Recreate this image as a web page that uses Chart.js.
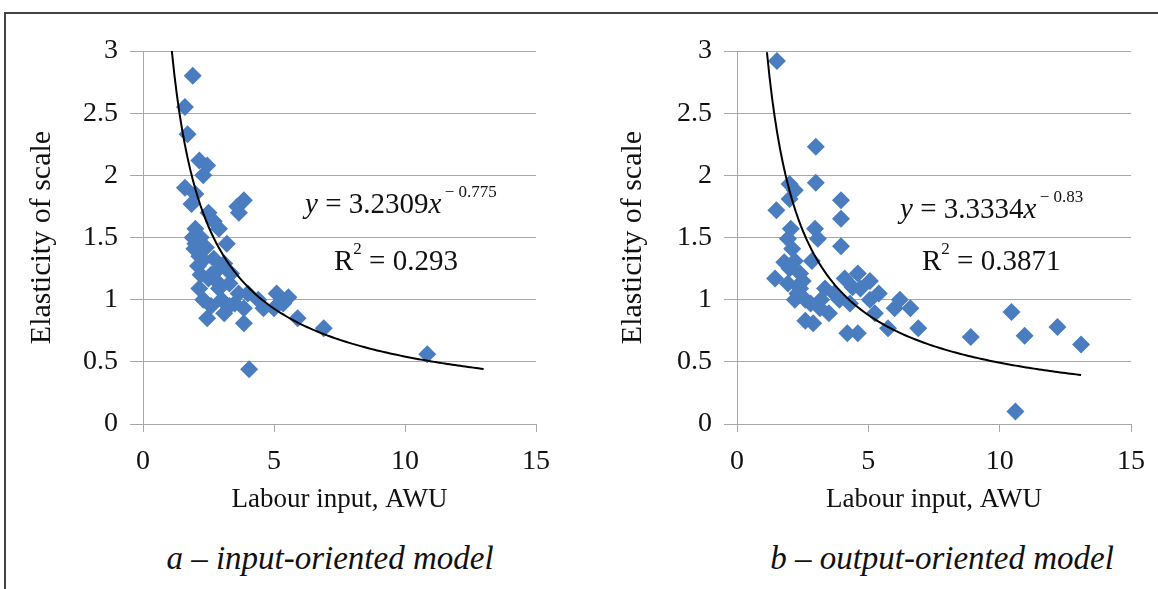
<!DOCTYPE html>
<html>
<head>
<meta charset="utf-8">
<script src="https://cdn.jsdelivr.net/npm/chart.js@4/dist/chart.umd.min.js"></script>
<style>
    body { margin: 0; background: #fff; width: 1158px; height: 589px; position: relative; overflow: hidden; font-family: "Liberation Serif", "Times New Roman", serif; }
    .frame { position: absolute; left: 4px; top: 12px; width: 1170px; height: 600px; border-left: 2px solid #444; border-top: 2px solid #444; }
    .box { position: absolute; top: 0; width: 579px; height: 520px; }
    .note { position: absolute; font-size: 29px; color: #111; white-space: nowrap; }
    .note sup { font-size: 17px; position: relative; top: -5px; }
    .caption { position: absolute; top: 540px; width: 520px; text-align: center; font-size: 33px; font-style: italic; color: #111; white-space: nowrap; }
</style>
</head>
<body>
<div class="frame"></div>
<div class="box" style="left:0px"><canvas id="chartA"></canvas></div>
<div class="box" style="left:579px"><canvas id="chartB"></canvas></div>

<div class="note" style="left:305px; top:187px"><i>y</i> = 3.2309<i>x</i><sup>&thinsp;&minus; 0.775</sup></div>
<div class="note" style="left:334px; top:244px">R<sup>2</sup> = 0.293</div>
<div class="note" style="left:900px; top:192px"><i>y</i> = 3.3334<i>x</i><sup>&thinsp;&minus; 0.83</sup></div>
<div class="note" style="left:922px; top:244px">R<sup>2</sup> = 0.3871</div>

<div class="caption" style="left:70px">a &ndash; input-oriented model</div>
<div class="caption" style="left:682px">b &ndash; output-oriented model</div>

<script>
// Data

// a - input-oriented model
const inputX = [1.9, 1.6, 1.7, 2.15, 2.45, 2.3, 1.6, 2.0, 1.85, 2.5, 3.6, 3.85, 3.66, 2.7, 2.9, 2.0, 1.9, 1.96, 2.15, 2.3,
    3.2, 2.1, 2.7, 3.1, 2.5, 2.15, 2.9, 3.3, 3.65, 4.0, 3.5, 3.85, 2.45, 3.1, 3.85, 4.4, 5.1, 5.55, 5.0, 5.9,
    6.9, 4.05, 10.85, 4.6, 5.35, 2.9, 3.36, 2.3, 2.0, 2.2, 2.4, 2.6, 2.8, 3.0, 2.2, 2.6, 3.3];
const inputY = [2.8, 2.55, 2.33, 2.12, 2.08, 2.0, 1.9, 1.85, 1.77, 1.7, 1.75, 1.8, 1.7, 1.63, 1.57, 1.57, 1.5, 1.41, 1.35, 1.32,
    1.45, 1.27, 1.33, 1.29, 1.17, 1.09, 1.09, 1.13, 1.05, 1.05, 0.97, 0.93, 0.85, 0.89, 0.81, 1.0, 1.05, 1.02, 0.93, 0.85,
    0.77, 0.44, 0.56, 0.93, 0.97, 1.25, 1.21, 1.0, 1.45, 1.5, 1.42, 1.2, 1.15, 1.0, 1.2, 0.95, 0.95];

// b - output-oriented model
const outputX = [1.52, 3.0, 3.0, 2.0, 2.2, 1.5, 2.0, 3.96, 3.96, 2.97, 3.08, 2.05, 1.94, 2.1, 3.96, 2.2, 2.0, 2.4, 2.85, 1.45,
    1.94, 2.4, 2.2, 2.8, 4.1, 4.6, 5.06, 3.35, 3.9, 4.3, 5.4, 6.0, 3.16, 2.6, 2.9, 4.2, 4.6, 5.25, 5.75, 6.6,
    6.9, 5.06, 4.7, 3.5, 6.2, 8.9, 10.45, 10.95, 12.2, 13.1, 10.6, 2.3, 2.6, 3.2, 3.7, 4.4, 1.8, 2.5];
const outputY = [2.92, 2.23, 1.94, 1.93, 1.88, 1.72, 1.81, 1.8, 1.65, 1.57, 1.49, 1.57, 1.49, 1.41, 1.43, 1.31, 1.25, 1.21, 1.31, 1.17,
    1.13, 1.09, 1.0, 0.97, 1.17, 1.21, 1.15, 1.09, 1.0, 0.97, 1.05, 0.93, 0.93, 0.83, 0.81, 0.73, 0.73, 0.89, 0.77, 0.93,
    0.77, 1.0, 1.09, 0.89, 1.0, 0.7, 0.9, 0.71, 0.78, 0.64, 0.1, 1.05, 1.0, 1.0, 1.05, 1.1, 1.3, 1.15];

// power trend lines y = a * x^b, as printed on the chart
const trendA = { a: 3.2309, b: -0.775, from: 1.1, to: 13 };
const trendB = { a: 3.3334, b: -0.83, from: 1.14, to: 13.1 };

const xTicks = [0, 5, 10, 15];
const yTicks = [0, 0.5, 1, 1.5, 2, 2.5, 3];

const pointColor = '#4a7dbf';
const gridColor = '#a8a8a8';
const serif = '"Liberation Serif", "Times New Roman", serif';

function trendPoints(t) {
    let pts = [];
    let n = 120;
    for (let i = 0; i <= n; i++) {
        let x = t.from + (t.to - t.from) * i / n;
        pts.push({ x: x, y: t.a * Math.pow(x, t.b) });
    }
    return pts;
}

function makeChart(id, xs, ys, trend, padLeft, areaLeft, padRight) {
    let pts = xs.map((x, i) => ({ x: x, y: ys[i] }));
    let ctx = document.getElementById(id).getContext('2d');
    return new Chart(ctx, {
        type: 'scatter',
        data: {
            datasets: [{
                    data: pts,
                    pointStyle: 'rectRot',
                    pointRadius: 9,
                    pointBackgroundColor: pointColor,
                    pointBorderColor: pointColor,
                    pointBorderWidth: 0,
                    order: 2
                },
                {
                    type: 'line',
                    data: trendPoints(trend),
                    borderColor: '#000',
                    borderWidth: 2,
                    pointRadius: 0,
                    fill: false,
                    tension: 0,
                    order: 1
                }
            ]
        },
        options: {
            responsive: true,
            maintainAspectRatio: false,
            animation: false,
            layout: { padding: { top: 51, left: padLeft, right: padRight, bottom: 4 } },
            plugins: { legend: { display: false }, tooltip: { enabled: false } },
            scales: {
                x: {
                    type: 'linear',
                    min: 0,
                    max: 15,
                    afterBuildTicks: (axis) => { axis.ticks = xTicks.map(v => ({ value: v })); },
                    afterFit: (axis) => { axis.height = 92; },
                    grid: { drawOnChartArea: false, drawTicks: true, tickLength: 8, color: gridColor },
                    border: { display: true, color: gridColor, width: 1 },
                    ticks: { color: '#111', padding: 13, font: { family: serif, size: 28 }, callback: (v) => String(v) },
                    title: { display: true, text: 'Labour input, AWU', color: '#111', padding: { top: 0, bottom: 0 }, font: { family: serif, size: 27 } }
                },
                y: {
                    min: 0,
                    max: 3,
                    afterBuildTicks: (axis) => { axis.ticks = yTicks.map(v => ({ value: v })); },
                    afterFit: (axis) => { axis.width = areaLeft - padLeft; },
                    grid: { color: gridColor, tickLength: 13, lineWidth: 1 },
                    border: { display: true, color: gridColor, width: 1 },
                    ticks: { color: '#111', padding: 12, font: { family: serif, size: 28 }, callback: (v) => String(v) },
                    title: { display: true, text: 'Elasticity of scale', color: '#111', padding: { top: 0, bottom: 0 }, font: { family: serif, size: 30 } }
                }
            }
        }
    });
}

let chartA = makeChart('chartA', inputX, inputY, trendA, 24, 143, 43);
let chartB = makeChart('chartB', outputX, outputY, trendB, 36, 158, 27);
</script>
</body>
</html>
